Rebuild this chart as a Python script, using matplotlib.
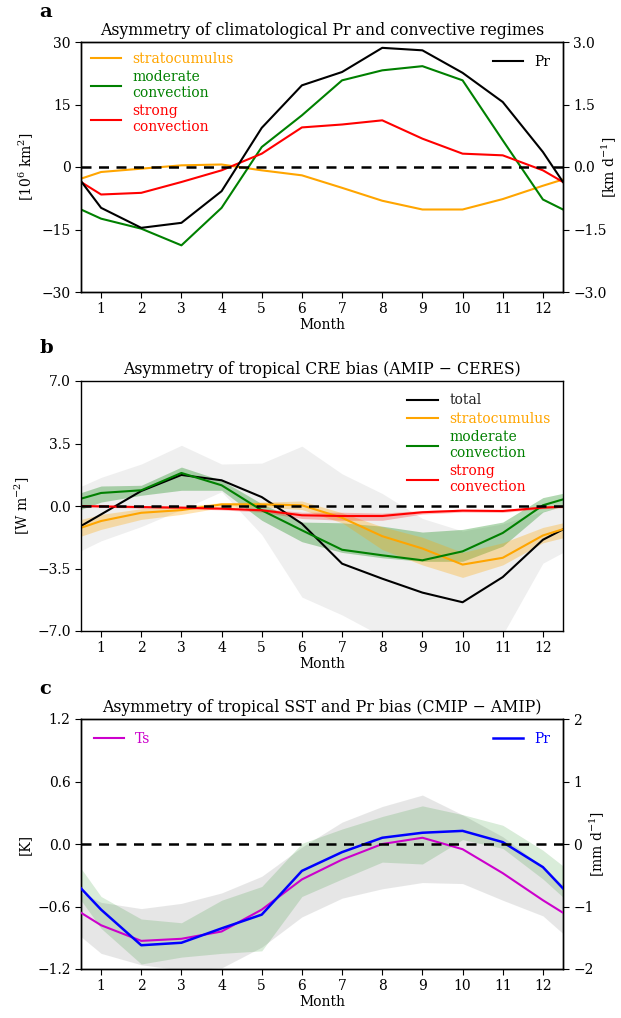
import numpy as np
import matplotlib
matplotlib.use("Agg")
import matplotlib.pyplot as plt

plt.rcParams['font.family'] = ['DejaVu Serif']
plt.rcParams['axes.linewidth'] = 1.0
plt.rcParams['mathtext.fontset'] = 'dejavuserif'

# x positions: half-month edges (cyclic) plus months 1..12
months_x = [0.5, 1, 2, 3, 4, 5, 6, 7, 8, 9, 10, 11, 12, 12.5]
month_ticks = list(range(1, 13))

# ---------------- Panel a ----------------
a_pr = [-0.34, -0.98, -1.46, -1.34, -0.58, 0.94, 1.96, 2.28, 2.86, 2.80, 2.26, 1.56, 0.36, -0.36]
a_sc = [-2.8, -1.2, -0.4, 0.4, 0.6, -0.8, -2.0, -5.0, -8.1, -10.2, -10.2, -7.7, -4.5, -3.0]
a_mod = [-10.2, -12.4, -14.8, -18.8, -9.8, 4.8, 12.4, 20.8, 23.2, 24.2, 20.8, 6.4, -7.8, -10.2]
a_strong = [-3.6, -6.6, -6.2, -3.6, -0.8, 3.2, 9.5, 10.2, 11.2, 6.8, 3.2, 2.8, -0.8, -3.6]

# ---------------- Panel b ----------------
b_total = [-1.12, -0.47, 0.84, 1.74, 1.44, 0.50, -0.99, -3.23, -4.07, -4.85, -5.39, -3.98, -1.89, -1.31]
b_total_hi = [1.1, 1.6, 2.35, 3.4, 2.35, 2.4, 3.35, 1.8, 0.7, -0.7, -1.4, -1.0, -0.3, 0.0]
b_total_lo = [-2.5, -1.95, -1.15, -0.2, 0.8, -1.6, -5.1, -6.1, -7.3, -8.5, -8.5, -7.2, -3.2, -2.6]
b_sc = [-1.22, -0.84, -0.38, -0.23, 0.09, 0.09, 0.04, -0.66, -1.69, -2.38, -3.28, -2.90, -1.65, -1.30]
b_sc_hi = [-0.75, -0.47, -0.15, -0.04, 0.19, 0.22, 0.28, -0.38, -1.16, -1.75, -2.60, -2.06, -1.20, -0.94]
b_sc_lo = [-1.69, -1.31, -0.75, -0.47, -0.09, -0.05, -0.20, -0.94, -2.44, -3.30, -4.00, -3.30, -2.06, -1.78]
b_mod = [0.41, 0.73, 0.88, 1.85, 1.16, -0.24, -1.36, -2.45, -2.76, -3.04, -2.54, -1.51, 0.04, 0.37]
b_mod_hi = [0.75, 1.12, 1.16, 2.18, 1.44, 0.13, -0.90, -0.94, -1.13, -1.46, -1.31, -0.90, 0.47, 0.71]
b_mod_lo = [-0.19, 0.22, 0.60, 0.88, 0.88, -0.80, -2.00, -2.60, -2.90, -3.10, -3.10, -2.25, -0.34, 0.00]
b_strong = [0.0, -0.02, -0.06, -0.09, -0.15, -0.24, -0.52, -0.56, -0.56, -0.35, -0.26, -0.28, -0.09, -0.04]
b_strong_hi = [0.05, 0.03, 0.0, -0.03, -0.08, -0.14, -0.35, -0.35, -0.40, -0.25, -0.18, -0.20, -0.03, 0.02]
b_strong_lo = [-0.05, -0.07, -0.12, -0.15, -0.22, -0.34, -0.70, -0.80, -0.80, -0.45, -0.34, -0.36, -0.15, -0.10]

# ---------------- Panel c ----------------
c_ts = [-0.66, -0.78, -0.93, -0.91, -0.84, -0.63, -0.34, -0.15, 0.0, 0.06, -0.05, -0.28, -0.54, -0.66]
c_ts_hi = [-0.47, -0.56, -0.62, -0.57, -0.47, -0.31, -0.03, 0.21, 0.36, 0.47, 0.28, 0.07, -0.22, -0.40]
c_ts_lo = [-0.89, -1.05, -1.16, -1.21, -1.19, -0.99, -0.70, -0.52, -0.43, -0.37, -0.38, -0.54, -0.69, -0.86]
c_pr = [-0.71, -1.05, -1.62, -1.58, -1.35, -1.13, -0.43, -0.13, 0.10, 0.18, 0.21, 0.03, -0.37, -0.71]
c_pr_hi = [-0.39, -0.84, -1.20, -1.26, -0.90, -0.68, 0.01, 0.24, 0.44, 0.61, 0.47, 0.30, -0.10, -0.35]
c_pr_lo = [-0.90, -1.35, -1.92, -1.81, -1.75, -1.71, -0.84, -0.56, -0.29, -0.32, 0.07, -0.07, -0.56, -0.85]

ORANGE = '#FFA500'
GREEN = '#008000'
RED = '#FF0000'
MAG = '#CC00CC'
BLUE = '#0000FF'

fig = plt.figure(figsize=(6.21, 10.18), dpi=100)
L, W, H = 81/621, 482/621, 250/1018
tfs = 11.3
fs = 10

def style_x(ax):
    ax.set_xlim(0.5, 12.5)
    ax.set_xticks(month_ticks)
    ax.set_xlabel('Month', fontsize=fs, labelpad=1)
    ax.tick_params(labelsize=fs, length=4)

def zero_line(ax):
    ax.axhline(0, color='k', ls='--', lw=1.8, dashes=(4, 3), zorder=6)

# Panel a
ax = fig.add_axes([L, 1 - 292/1018, W, H])
ax2 = ax.twinx()
style_x(ax)
zero_line(ax2)
l1, = ax.plot(months_x, a_sc, color=ORANGE, lw=1.5, label='stratocumulus')
l2, = ax.plot(months_x, a_mod, color=GREEN, lw=1.5, label='moderate\nconvection')
l3, = ax.plot(months_x, a_strong, color=RED, lw=1.5, label='strong\nconvection')
lp, = ax2.plot(months_x, a_pr, color='k', lw=1.5, label='Pr')
ax.set_ylim(-30, 30)
ax.set_yticks([-30, -15, 0, 15, 30])
ax2.set_ylim(-3, 3)
ax2.set_yticks([-3, -1.5, 0, 1.5, 3])
ax2.set_yticklabels(['\u22123.0', '\u22121.5', '0.0', '1.5', '3.0'])
ax2.tick_params(labelsize=fs, length=4)
ax.set_ylabel('[10$^6$ km$^2$]', fontsize=fs)
ax2.set_ylabel('[km d$^{-1}$]', fontsize=fs)
ax2.yaxis.set_label_coords((600 - 81) / 482, 0.5)
ax.set_title('Asymmetry of climatological Pr and convective regimes', fontsize=tfs, pad=5)
leg = ax.legend(handles=[l1, l2, l3], loc='upper left', frameon=False, fontsize=fs,
                handlelength=2.2, labelspacing=0.3, borderaxespad=0.3)
for t, c in zip(leg.get_texts(), [ORANGE, GREEN, RED]):
    t.set_color(c)
ax2.legend(handles=[lp], loc='upper right', frameon=False, fontsize=fs, handlelength=2.2)
fig.text(39/621, 1 - 12/1018, 'a', fontsize=14, fontweight='bold', va='center')

# Panel b
bx = fig.add_axes([L, 1 - 631/1018, W, H])
style_x(bx)
zero_line(bx)
bx.fill_between(months_x, b_total_lo, b_total_hi, color='#dcdcdc', alpha=0.45, lw=0)
bx.fill_between(months_x, b_mod_lo, b_mod_hi, color=GREEN, alpha=0.3, lw=0)
bx.fill_between(months_x, b_sc_lo, b_sc_hi, color=ORANGE, alpha=0.3, lw=0)
bx.fill_between(months_x, b_strong_lo, b_strong_hi, color=RED, alpha=0.25, lw=0)
m1, = bx.plot(months_x, b_total, color='k', lw=1.5, label='total')
m2, = bx.plot(months_x, b_sc, color=ORANGE, lw=1.5, label='stratocumulus')
m3, = bx.plot(months_x, b_mod, color=GREEN, lw=1.5, label='moderate\nconvection')
m4, = bx.plot(months_x, b_strong, color=RED, lw=1.5, label='strong\nconvection')
bx.set_ylim(-7, 7)
bx.set_yticks([-7, -3.5, 0, 3.5, 7])
bx.set_yticklabels(['\u22127.0', '\u22123.5', '0.0', '3.5', '7.0'])
bx.set_ylabel('[W m$^{-2}$]', fontsize=fs)
bx.set_title('Asymmetry of tropical CRE bias (AMIP \u2212 CERES)', fontsize=tfs, pad=5)
leg = bx.legend(handles=[m1, m2, m3, m4], loc='upper right', frameon=False, fontsize=fs,
                handlelength=2.2, labelspacing=0.3, bbox_to_anchor=(1.0, 1.0))
for t, c in zip(leg.get_texts(), ['#222222', ORANGE, GREEN, RED]):
    t.set_color(c)
fig.text(39/621, 1 - 348/1018, 'b', fontsize=14, fontweight='bold', va='center')

# Panel c
cx = fig.add_axes([L, 1 - 969/1018, W, H])
cx2 = cx.twinx()
style_x(cx)
cx.fill_between(months_x, c_ts_lo, c_ts_hi, color='#cfcfcf', alpha=0.5, lw=0)
cx2.fill_between(months_x, c_pr_lo, c_pr_hi, color=GREEN, alpha=0.15, lw=0, zorder=1)
zero_line(cx2)
# Ts line drawn on top layer, using the left (K) axis scale
n1, = cx2.plot(months_x, c_ts, color=MAG, lw=1.5, label='Ts', transform=cx.transData, zorder=3)
n2, = cx2.plot(months_x, c_pr, color=BLUE, lw=1.8, label='Pr', zorder=4)
cx.set_ylim(-1.2, 1.2)
cx.set_yticks([-1.2, -0.6, 0, 0.6, 1.2])
cx.set_yticklabels(['\u22121.2', '\u22120.6', '0.0', '0.6', '1.2'])
cx2.set_ylim(-2, 2)
cx2.set_yticks([-2, -1, 0, 1, 2])
cx2.tick_params(labelsize=fs, length=4)
cx.set_ylabel('[K]', fontsize=fs)
cx2.set_ylabel('[mm d$^{-1}$]', fontsize=fs)
cx2.yaxis.set_label_coords((588 - 81) / 482, 0.5)
cx.set_title('Asymmetry of tropical SST and Pr bias (CMIP \u2212 AMIP)', fontsize=tfs, pad=5)
leg = cx2.legend(handles=[n1], loc='upper left', frameon=False, fontsize=fs, handlelength=2.2)
leg.get_texts()[0].set_color(MAG)
cx2.add_artist(leg)
leg2 = cx2.legend(handles=[n2], loc='upper right', frameon=False, fontsize=fs, handlelength=2.2)
leg2.get_texts()[0].set_color(BLUE)
fig.text(39/621, 1 - 689/1018, 'c', fontsize=14, fontweight='bold', va='center')

fig.savefig('out.png', dpi=100)
